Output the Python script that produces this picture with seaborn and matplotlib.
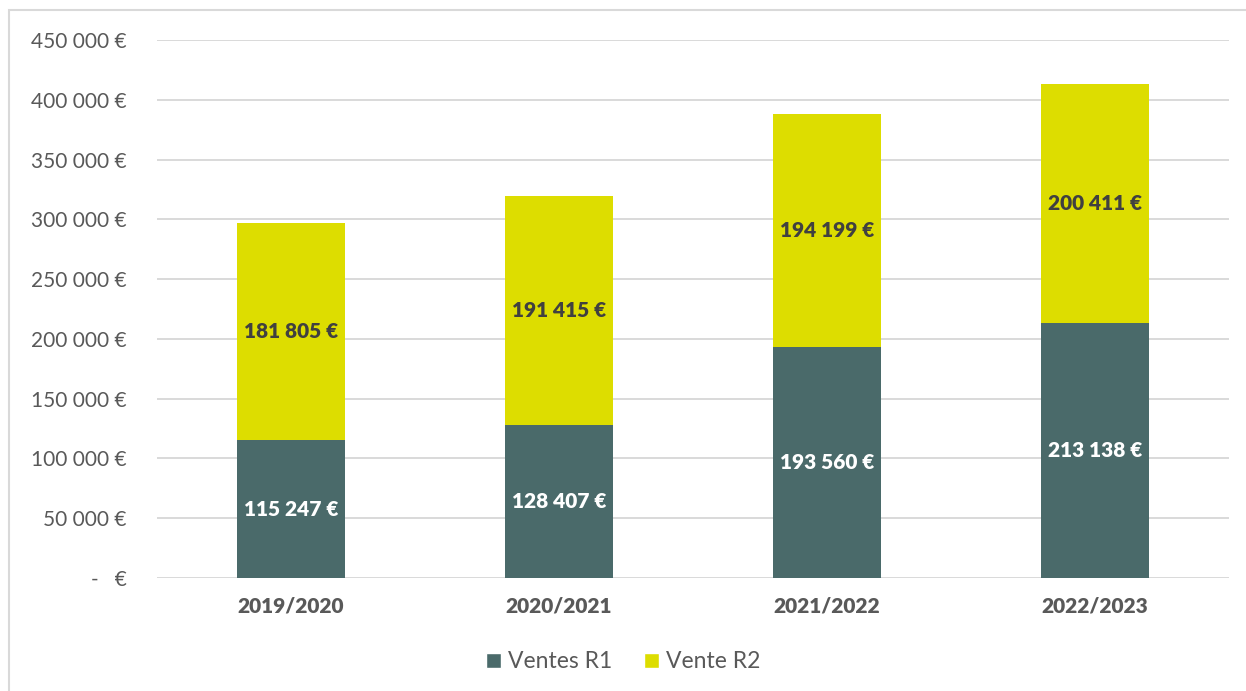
import pandas as pd
import matplotlib.pyplot as plt
from matplotlib.patches import Patch, Rectangle
import seaborn as sns

# data
saisons = ['2019/2020', '2020/2021', '2021/2022', '2022/2023']
ventes_r1 = [115247, 128407, 193560, 213138]
vente_r2 = [181805, 191415, 194199, 200411]
y_ticks = [0, 50000, 100000, 150000, 200000, 250000, 300000, 350000, 400000, 450000]

col_r1 = '#4A6A6A'
col_r2 = '#DDDD00'
txt_grey = '#595959'

sns.set_theme(style='white')
plt.rcParams['font.family'] = ['Lato', 'DejaVu Sans']

df = pd.DataFrame({'saison': saisons, 'r1': ventes_r1, 'r2': vente_r2})
df['total'] = df['r1'] + df['r2']

fig = plt.figure(figsize=(12.46, 6.91), dpi=100)
ax = fig.add_axes([0.126, 0.1635, 0.8604, 0.7785])

# stacked: total first (yellow), then R1 on top of it
sns.barplot(data=df, x='saison', y='total', color=col_r2, width=0.4, saturation=1,
            linewidth=0, ax=ax, zorder=2)
sns.barplot(data=df, x='saison', y='r1', color=col_r1, width=0.4, saturation=1,
            linewidth=0, ax=ax, zorder=3)


def fmt_eur(v):
    return f"{v:,.0f} €".replace(',', ' ')


for i, row in df.iterrows():
    ax.text(i, row['r1'] / 2, fmt_eur(row['r1']), ha='center', va='center',
            color='white', fontsize=15, fontweight='heavy', zorder=4)
    ax.text(i, row['r1'] + row['r2'] / 2, fmt_eur(row['r2']), ha='center', va='center',
            color='#404040', fontsize=15, fontweight='heavy', zorder=4)

ax.set_ylim(0, 450000)
ax.set_xlim(-0.5, 3.5)
ax.set_yticks(y_ticks)
ax.set_yticklabels(['-   €' if t == 0 else fmt_eur(t) for t in y_ticks])
ax.yaxis.grid(True, color='#D9D9D9', linewidth=1.4, zorder=0)
ax.set_axisbelow(True)
ax.tick_params(axis='y', length=0, pad=22, labelsize=15, labelcolor=txt_grey)
ax.tick_params(axis='x', length=0, pad=13, labelsize=15, labelcolor=txt_grey)
for lbl in ax.get_xticklabels():
    lbl.set_fontweight('heavy')
ax.set_xlabel('')
ax.set_ylabel('')
sns.despine(ax=ax, left=True, bottom=True)

handles = [Patch(facecolor=col_r1, label='Ventes R1'), Patch(facecolor=col_r2, label='Vente R2')]
fig.legend(handles=handles, loc='center', bbox_to_anchor=(0.5, 1 - 662 / 691), ncol=2,
           frameon=False, fontsize=16.5, handlelength=0.65, handleheight=0.65,
           handletextpad=0.3, columnspacing=1.4, labelcolor=txt_grey)

# outer chart-area border
fig.patches.append(Rectangle((9 / 1246, -0.01), 1.0, 1 - 10 / 691 + 0.01, transform=fig.transFigure,
                             fill=False, edgecolor='#D9D9D9', linewidth=1.5))

fig.savefig('out.png', dpi=100)
